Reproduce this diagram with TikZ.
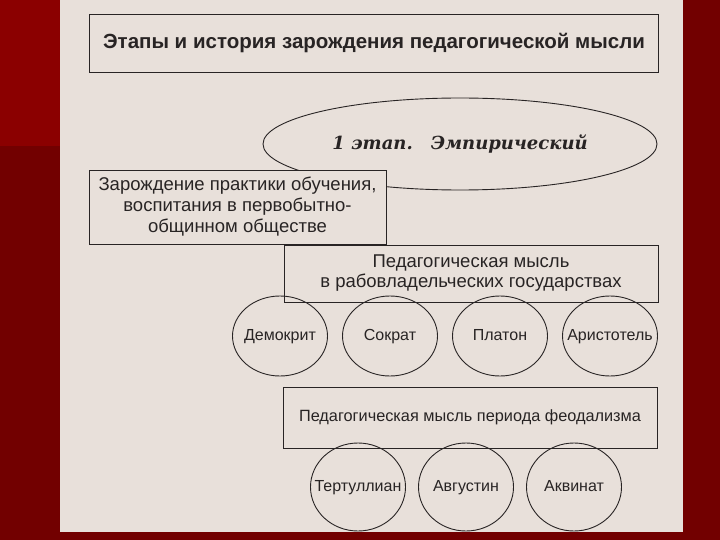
\documentclass[tikz,border=0pt]{standalone}
\usepackage{fontspec}
\setmainfont{Liberation Sans}
\newfontfamily\stagefont{DejaVu Serif}
\usetikzlibrary{positioning,shapes.geometric}
\definecolor{darkbg}{RGB}{114,0,0}
\definecolor{redbg}{RGB}{139,0,0}
\definecolor{paper}{RGB}{232,224,218}
\definecolor{ink}{RGB}{40,36,36}
\newcommand{\who}[1]{\makebox[0pt]{#1}}

\begin{document}
\begin{tikzpicture}[x=1pt,y=-1pt,node distance=110pt,on grid,
    line width=0.9pt,
    box/.style={rectangle,draw=ink,fill=paper,align=center,text=ink,inner sep=0pt},
    person/.style={ellipse,draw=ink,text=ink,minimum width=95pt,minimum height=80pt,
    inner sep=0pt,text height=11pt,text depth=3pt,font=\fontsize{16}{18}\selectfont}
    ]
    % background
    \fill[darkbg] (0,0) rectangle (720,540);
    \fill[redbg] (0,0) rectangle (60,146);
    \fill[paper] (60,0) rectangle (683,532);
    % title and stage
    \node[box,minimum width=569pt,minimum height=58pt,
      font=\bfseries\fontsize{20.5}{24}\selectfont] (T) at (374,43.5)
      {Этапы и история зарождения педагогической мысли};
    \node[ellipse,draw=ink,text=ink,minimum width=394pt,minimum height=92pt,
      font=\stagefont\bfseries\itshape\fontsize{18}{21}\selectfont] (E) at (460,144)
      {1 этап.\quad Эмпирический};
    % periods
    \node[box,minimum width=297pt,minimum height=74pt,
      font=\fontsize{18.5}{21}\selectfont] (P1) at (237.5,207)
      {Зарождение практики обучения,\\воспитания в первобытно-\\общинном обществе};
    \node[box,minimum width=374pt,minimum height=57pt,
      font=\fontsize{18.5}{20}\selectfont] (P2) at (471,273.5)
      {Педагогическая мысль\\в рабовладельческих государствах};
    \node[box,minimum width=374pt,minimum height=61pt,
      font=\fontsize{16.3}{19}\selectfont] (P3) at (470,417.5)
      {Педагогическая мысль периода феодализма};
    % thinkers
    \node[person] (D) at (280,336) {\who{Демокрит}};
    \node[person] (S) [right = of D] {\who{Сократ}};
    \node[person] (Pl) [right = of S] {\who{Платон}};
    \node[person] (A) [right = of Pl] {\who{Аристотель}};
    \node[person,minimum height=88pt] (Te) at (358,487) {\who{Тертуллиан}};
    \node[person,minimum height=88pt] (Av) [right = 108pt of Te] {\who{Августин}};
    \node[person,minimum height=88pt] (Ak) [right = 108pt of Av] {\who{Аквинат}};
\end{tikzpicture}
\end{document}
